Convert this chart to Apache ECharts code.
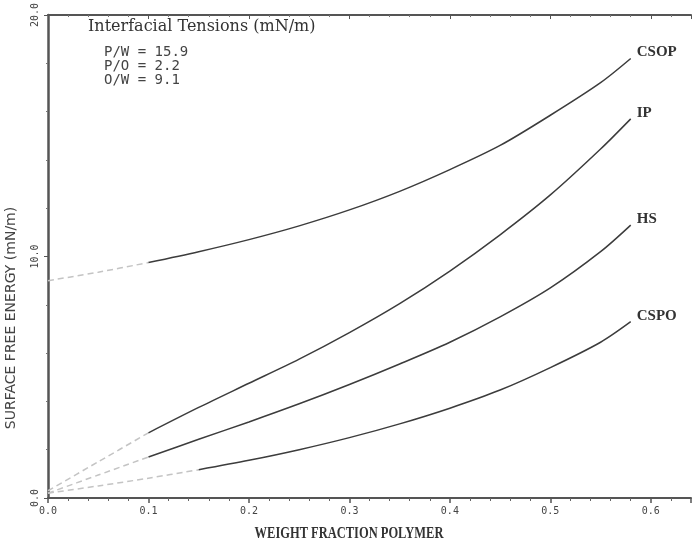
<!DOCTYPE html>
<html>
<head>
<meta charset="utf-8">
<script src="https://cdn.jsdelivr.net/npm/echarts@6/dist/echarts.min.js"></script>
<style>
html,body{margin:0;padding:0;background:#fff;}
#chart{width:694px;height:551px;}
</style>
</head>
<body>
<div id="chart"></div>
<script>
// ---- data ----
const xValues = [0.0, 0.05, 0.10, 0.15, 0.20, 0.25, 0.30, 0.35, 0.40, 0.45, 0.50, 0.55, 0.58];
const csopValues = [9.0, 9.35, 9.75, 10.2, 10.7, 11.27, 11.93, 12.7, 13.6, 14.6, 15.85, 17.2, 18.2];
const ipValues   = [0.3, 1.5, 2.7, 3.75, 4.75, 5.75, 6.85, 8.05, 9.4, 10.9, 12.55, 14.45, 15.7];
const hsValues   = [0.2, 0.95, 1.7, 2.43, 3.15, 3.9, 4.7, 5.55, 6.45, 7.5, 8.7, 10.2, 11.3];
const cspoValues = [0.2, 0.5, 0.82, 1.17, 1.56, 2.0, 2.5, 3.07, 3.72, 4.47, 5.4, 6.45, 7.3];
const seriesNames = ['CSOP', 'IP', 'HS', 'CSPO'];
const xTickLabels = ['0.0', '0.1', '0.2', '0.3', '0.4', '0.5', '0.6'];
const yTickLabels = ['0.0', '10.0', '20.0'];
const tensionLines = ['Interfacial Tensions (mN/m)', 'P/W = 15.9', 'P/O = 2.2', 'O/W = 9.1'];
const xTitle = 'WEIGHT FRACTION POLYMER';
const yTitle = 'SURFACE FREE ENERGY (mN/m)';
// index where the faint scanned start ends and the solid line begins
const solidFrom = [2, 2, 2, 3];

const allValues = [csopValues, ipValues, hsValues, cspoValues];
const chart = echarts.init(document.getElementById('chart'), null, {renderer: 'canvas'});

const series = [];
allValues.forEach((vals, k) => {
  const pts = xValues.map((x, i) => [x, vals[i]]);
  const s = solidFrom[k];
  series.push({
    type: 'line', name: seriesNames[k] + ' start', data: pts.slice(0, s + 1),
    smooth: 0.3, symbol: 'none', silent: true,
    lineStyle: {color: '#c4c4c4', width: 1.5, type: [6, 4]}
  });
  series.push({
    type: 'line', name: seriesNames[k], data: pts.slice(s),
    smooth: 0.3, symbol: 'none', silent: true,
    lineStyle: {color: '#3c3c3c', width: 1.5},
    endLabel: {
      show: true, formatter: seriesNames[k], distance: 6, offset: [0, -6],
      fontFamily: 'Liberation Serif', fontWeight: 'bold', fontSize: 15, color: '#333'
    }
  });
});

const tickText = (v, step, labels) => {
  const r = Math.round(v / step);
  return Math.abs(v / step - r) < 1e-6 ? (labels[r] || '') : '';
};

chart.setOption({
  animation: false,
  backgroundColor: '#ffffff',
  grid: {left: 48, right: 1, top: 13, bottom: 53, containLabel: false},
  xAxis: [{
    type: 'value', min: 0, max: 0.64, interval: 0.1,
    axisLine: {show: true, lineStyle: {color: '#555', width: 2}},
    axisTick: {show: true, length: 5, lineStyle: {color: '#555', width: 1.5}},
    minorTick: {show: true, splitNumber: 5, length: 3, lineStyle: {color: '#666'}},
    splitLine: {show: false},
    axisLabel: {
      formatter: v => tickText(v, 0.1, xTickLabels),
      margin: 8, fontFamily: 'DejaVu Sans Mono', fontSize: 10, color: '#444'
    }
  }, {
    type: 'value', min: 0, max: 0.64, interval: 0.1, position: 'top',
    axisLine: {show: true, lineStyle: {color: '#555', width: 2}},
    axisTick: {show: true, inside: true, length: 4, lineStyle: {color: '#555'}},
    minorTick: {show: true, splitNumber: 5, length: 2, lineStyle: {color: '#777'}},
    axisLabel: {show: false}, splitLine: {show: false}
  }],
  yAxis: {
    type: 'value', min: 0, max: 20, interval: 10,
    axisLine: {show: true, lineStyle: {color: '#555', width: 2.5}},
    axisTick: {show: true, length: 4, lineStyle: {color: '#555'}},
    minorTick: {show: true, splitNumber: 5, length: 2, lineStyle: {color: '#777'}},
    splitLine: {show: false},
    axisLabel: {
      formatter: v => tickText(v, 10, yTickLabels),
      rotate: 90, margin: 8, fontFamily: 'DejaVu Sans Mono', fontSize: 10, color: '#444'
    }
  },
  series: series,
  graphic: [
    {type: 'text', left: 88, top: 19, style: {text: tensionLines[0], font: '16px "DejaVu Serif"', fill: '#333'}},
    {type: 'text', left: 104, top: 45, style: {text: tensionLines[1], font: '14px "DejaVu Sans Mono"', fill: '#444'}},
    {type: 'text', left: 104, top: 59, style: {text: tensionLines[2], font: '14px "DejaVu Sans Mono"', fill: '#444'}},
    {type: 'text', left: 104, top: 73, style: {text: tensionLines[3], font: '14px "DejaVu Sans Mono"', fill: '#444'}},
    {type: 'text', x: 349, y: 534, scaleX: 0.78, style: {text: xTitle, font: 'bold 16px "Liberation Serif"', fill: '#333', align: 'center', verticalAlign: 'middle'}},
    {type: 'text', x: 11, y: 318, rotation: Math.PI / 2, style: {text: yTitle, font: '14px "DejaVu Sans"', fill: '#444', align: 'center', verticalAlign: 'middle'}}
  ]
});
</script>
</body>
</html>
